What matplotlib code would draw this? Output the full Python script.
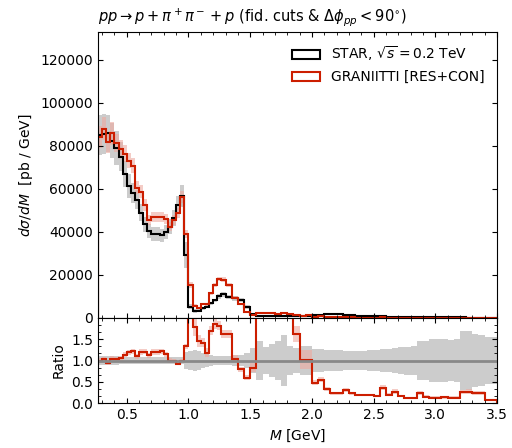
import numpy as np
import matplotlib
matplotlib.use('Agg')
import matplotlib.pyplot as plt
from matplotlib.patches import Patch
from matplotlib.ticker import MultipleLocator

# bin edges [GeV]: fine bins up to 1.3, then 50 MeV bins
m_edges = np.concatenate([np.linspace(0.8 / 3, 1.3, 32), np.linspace(1.35, 3.5, 44)])

# STAR fiducial dsigma/dM [pb/GeV]
star = np.array([
    85100, 85500, 86000, 82500, 79000, 75000, 67000, 61500, 58000, 55000,
    49000, 43500, 40500, 39000, 39000, 38500, 40000, 42500, 46500, 52500,
    56700, 29300, 5300, 3200, 3300, 4500, 5300, 6800, 8200, 10000,
    11000,
    9600, 9100, 8400, 5000, 1800,
    1000, 950, 900, 900, 850, 850,
    900, 1000, 1150, 1350, 1600, 1900, 1950, 1700, 1400, 1200,
    1050, 950, 850, 780, 700, 640, 580, 530, 480, 440,
    400, 370, 340, 310, 290, 270, 250, 230, 215, 200,
    185, 170, 160])
# relative uncertainty of STAR
star_rel = np.array([
    0.11, 0.11, 0.10, 0.10, 0.10, 0.09, 0.09, 0.09, 0.08, 0.08,
    0.08, 0.08, 0.08, 0.08, 0.08, 0.08, 0.08, 0.08, 0.08, 0.08,
    0.09, 0.20, 0.22, 0.24, 0.22, 0.18, 0.15, 0.12, 0.10, 0.10,
    0.10,
    0.10, 0.12, 0.13, 0.18, 0.30,
    0.46, 0.32, 0.38, 0.45, 0.60, 0.34,
    0.30, 0.35, 0.35, 0.27, 0.26, 0.25, 0.24, 0.24, 0.23, 0.22,
    0.22, 0.23, 0.24, 0.24, 0.26, 0.27, 0.30, 0.32, 0.33, 0.35,
    0.45, 0.45, 0.50, 0.50, 0.50, 0.48, 0.50, 0.70, 0.70, 0.62,
    0.60, 0.55, 0.55])

# GRANIITTI [RES+CON]
gr = np.array([
    84200, 88100, 81700, 85800, 81400, 78700, 76400, 73200, 70800, 60500,
    58800, 52600, 45400, 46800, 46800, 47000, 46000, 42500, 45600, 48800,
    56100, 39000, 15300, 5700, 4800, 6400, 6300, 11560, 15250, 18200,
    17800,
    15550, 9450, 6640, 2950, 1500,
    2400, 2380, 2160, 2070, 2210, 2040,
    1460, 1020, 1170, 650, 880, 630, 450, 390, 435, 275,
    200, 180, 160, 133, 252, 122, 157, 90, 53, 48,
    92, 55, 44, 40, 38, 35, 32, 62, 58, 46,
    43, 12, 11])
gr_rel = np.array([
    0.06, 0.06, 0.06, 0.06, 0.05, 0.05, 0.05, 0.05, 0.05, 0.05,
    0.05, 0.05, 0.05, 0.05, 0.05, 0.05, 0.05, 0.05, 0.05, 0.05,
    0.05, 0.05, 0.10, 0.12, 0.10, 0.08, 0.08, 0.06, 0.06, 0.06,
    0.06,
    0.06, 0.08, 0.08, 0.10, 0.12,
    0.08, 0.08, 0.08, 0.08, 0.08, 0.08,
    0.12, 0.22, 0.22, 0.13, 0.12, 0.14, 0.15, 0.15, 0.14, 0.15,
    0.15, 0.16, 0.16, 0.17, 0.17, 0.18, 0.18, 0.18, 0.20, 0.20,
    0.20, 0.20, 0.20, 0.20, 0.20, 0.20, 0.20, 0.18, 0.18, 0.18,
    0.20, 0.25, 0.25])

red = '#cc1e00'
grey = '#cccccc'
pink = '#eeaaa0'

fig = plt.figure(figsize=(5.12, 4.48), dpi=100)
ax = fig.add_axes([0.1914, 0.2902, 0.7793, 0.6384])
rax = fig.add_axes([0.1914, 0.1004, 0.7793, 0.1897], sharex=ax)

# === main panel ===
ax.stairs(star * (1 + star_rel), m_edges, baseline=star * (1 - star_rel), fill=True, color=grey, lw=0)
ax.stairs(gr * (1 + gr_rel), m_edges, baseline=gr * (1 - gr_rel), fill=True, color=pink, alpha=0.6, lw=0)
ax.stairs(star, m_edges, color='k', lw=1.5)
ax.stairs(gr, m_edges, color=red, lw=1.5)

handles = [Patch(facecolor='none', edgecolor='k', lw=1.5),
           Patch(facecolor='none', edgecolor=red, lw=1.5)]
ax.legend(handles, [r'STAR, $\sqrt{s} = 0.2$ TeV', 'GRANIITTI [RES+CON]'],
          loc='upper right', frameon=False, fontsize=10)

ax.set_xlim(m_edges[0], 3.5)
ax.set_ylim(0, 133000)
ax.yaxis.set_major_locator(MultipleLocator(20000))
ax.xaxis.set_major_locator(MultipleLocator(0.5))
ax.xaxis.set_minor_locator(MultipleLocator(0.1))
ax.tick_params(which='both', direction='in', top=True, right=True, labelbottom=False)
ax.set_ylabel(r'$d\sigma/dM$  [pb / GeV]')
ax.set_title(r'$pp \rightarrow p + \pi^+\pi^- + p$ (fid. cuts & $\Delta\phi_{pp} < 90^{\circ}$)',
             loc='left', fontsize=10.5, pad=8)

# === ratio panel ===
ratio = gr / star
rax.stairs(1 + star_rel, m_edges, baseline=1 - star_rel, fill=True, color=grey, lw=0)
rax.stairs(ratio * (1 + gr_rel), m_edges, baseline=ratio * (1 - gr_rel), fill=True, color=pink, alpha=0.6, lw=0)
rax.axhline(1.0, color='#888888', lw=2)
rax.stairs(ratio, m_edges, color=red, lw=1.5)

rax.set_ylim(0, 2.0)
rax.set_yticks([0, 0.5, 1.0, 1.5])
rax.yaxis.set_minor_locator(MultipleLocator(1 / 6))
rax.tick_params(which='both', direction='in', top=True, right=True)
rax.set_ylabel('Ratio')
rax.set_xlabel(r'$M$ [GeV]')

fig.savefig('out.png', dpi=100)
